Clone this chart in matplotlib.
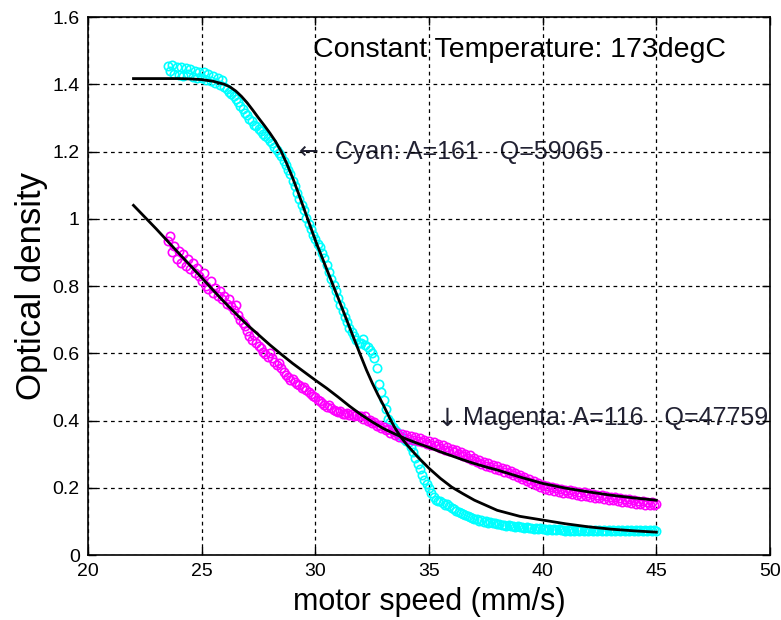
import matplotlib
matplotlib.use("Agg")
import matplotlib.pyplot as plt

# motor speed samples shared by both measured traces (mm/s)
speed = [
    23.5, 23.6, 23.7, 23.8, 23.9,
    24.0, 24.1, 24.2, 24.3, 24.4, 24.5, 24.6, 24.7, 24.8, 24.9,
    25.0, 25.1, 25.2, 25.3, 25.4, 25.5, 25.6, 25.7, 25.8, 25.9,
    26.0, 26.1, 26.2, 26.3, 26.4, 26.5, 26.6, 26.7, 26.8, 26.9,
    27.0, 27.1, 27.2, 27.3, 27.4, 27.5, 27.6, 27.7, 27.8, 27.9,
    28.0, 28.1, 28.2, 28.3, 28.4, 28.5, 28.6, 28.7, 28.8, 28.9,
    29.0, 29.1, 29.2, 29.3, 29.4, 29.5, 29.6, 29.7, 29.8, 29.9,
    30.0, 30.1, 30.2, 30.3, 30.4, 30.5, 30.6, 30.7, 30.8, 30.9,
    31.0, 31.1, 31.2, 31.3, 31.4, 31.5, 31.6, 31.7, 31.8, 31.9,
    32.0, 32.1, 32.2, 32.3, 32.4, 32.5, 32.6, 32.7, 32.8, 32.9,
    33.0, 33.1, 33.2, 33.3, 33.4, 33.5, 33.6, 33.7, 33.8, 33.9,
    34.0, 34.1, 34.2, 34.3, 34.4, 34.5, 34.6, 34.7, 34.8, 34.9,
    35.0, 35.1, 35.2, 35.3, 35.4, 35.5, 35.6, 35.7, 35.8, 35.9,
    36.0, 36.1, 36.2, 36.3, 36.4, 36.5, 36.6, 36.7, 36.8, 36.9,
    37.0, 37.1, 37.2, 37.3, 37.4, 37.5, 37.6, 37.7, 37.8, 37.9,
    38.0, 38.1, 38.2, 38.3, 38.4, 38.5, 38.6, 38.7, 38.8, 38.9,
    39.0, 39.1, 39.2, 39.3, 39.4, 39.5, 39.6, 39.7, 39.8, 39.9,
    40.0, 40.1, 40.2, 40.3, 40.4, 40.5, 40.6, 40.7, 40.8, 40.9,
    41.0, 41.1, 41.2, 41.3, 41.4, 41.5, 41.6, 41.7, 41.8, 41.9,
    42.0, 42.1, 42.2, 42.3, 42.4, 42.5, 42.6, 42.7, 42.8, 42.9,
    43.0, 43.1, 43.2, 43.3, 43.4, 43.5, 43.6, 43.7, 43.8, 43.9,
    44.0, 44.1, 44.2, 44.3, 44.4, 44.5, 44.6, 44.7, 44.8, 44.9,
    45.0,
]

cyan_od = [
    1.455, 1.440, 1.458, 1.432, 1.450,
    1.428, 1.452, 1.425, 1.448, 1.430, 1.446, 1.422, 1.440, 1.420, 1.438,
    1.418, 1.436, 1.412, 1.432, 1.410, 1.426, 1.404, 1.420, 1.398, 1.412,
    1.392, 1.385, 1.376, 1.370, 1.364, 1.356, 1.348, 1.336, 1.328, 1.316,
    1.310, 1.296, 1.290, 1.280, 1.275, 1.268, 1.262, 1.252, 1.246, 1.240,
    1.232, 1.224, 1.214, 1.206, 1.196, 1.186, 1.172, 1.160, 1.145, 1.132,
    1.112, 1.098, 1.078, 1.060, 1.040, 1.026, 1.002, 0.984, 0.970, 0.952,
    0.940, 0.925, 0.915, 0.898, 0.882, 0.862, 0.842, 0.822, 0.802, 0.784,
    0.765, 0.745, 0.727, 0.708, 0.692, 0.676, 0.662, 0.650, 0.640, 0.632,
    0.630, 0.642, 0.625, 0.618, 0.610, 0.600, 0.585, 0.555, 0.510, 0.485,
    0.460, 0.435, 0.405, 0.395, 0.380, 0.372, 0.365, 0.358, 0.350, 0.345,
    0.340, 0.335, 0.322, 0.305, 0.290, 0.272, 0.255, 0.238, 0.222, 0.210,
    0.198, 0.185, 0.172, 0.165, 0.160, 0.162, 0.155, 0.150, 0.152, 0.145,
    0.140, 0.136, 0.132, 0.129, 0.124, 0.121, 0.118, 0.116, 0.112, 0.111,
    0.107, 0.106, 0.102, 0.103, 0.099, 0.100, 0.096, 0.098, 0.094, 0.095,
    0.092, 0.093, 0.089, 0.090, 0.087, 0.088, 0.085, 0.087, 0.084, 0.085,
    0.082, 0.084, 0.080, 0.082, 0.079, 0.081, 0.078, 0.080, 0.077, 0.079,
    0.076, 0.078, 0.075, 0.077, 0.074, 0.076, 0.073, 0.076, 0.073, 0.075,
    0.072, 0.075, 0.072, 0.074, 0.071, 0.074, 0.071, 0.074, 0.071, 0.073,
    0.071, 0.074, 0.070, 0.073, 0.071, 0.074, 0.070, 0.073, 0.071, 0.074,
    0.070, 0.073, 0.071, 0.074, 0.070, 0.073, 0.071, 0.074, 0.070, 0.073,
    0.071, 0.074, 0.070, 0.073, 0.071, 0.074, 0.070, 0.073, 0.071, 0.073,
    0.072,
]

magenta_od = [
    0.935, 0.950, 0.900, 0.920, 0.880,
    0.905, 0.870, 0.895, 0.860, 0.880, 0.850, 0.868, 0.840, 0.855, 0.830,
    0.815, 0.840, 0.800, 0.790, 0.815, 0.780, 0.795, 0.770, 0.785, 0.760,
    0.770, 0.748, 0.762, 0.740, 0.730, 0.745, 0.715, 0.700, 0.690, 0.680,
    0.665, 0.650, 0.640, 0.655, 0.630, 0.622, 0.615, 0.605, 0.598, 0.590,
    0.600, 0.585, 0.575, 0.565, 0.570, 0.555, 0.545, 0.535, 0.528, 0.520,
    0.525, 0.515, 0.510, 0.505, 0.498, 0.500, 0.492, 0.485, 0.478, 0.472,
    0.470, 0.462, 0.458, 0.452, 0.445, 0.440, 0.446, 0.438, 0.432, 0.428,
    0.425, 0.428, 0.420, 0.418, 0.421, 0.415, 0.418, 0.412, 0.416, 0.414,
    0.414, 0.406, 0.412, 0.400, 0.402, 0.392, 0.396, 0.385, 0.388, 0.378,
    0.382, 0.371, 0.374, 0.362, 0.369, 0.357, 0.364, 0.352, 0.360, 0.349,
    0.357, 0.346, 0.353, 0.341, 0.350, 0.338, 0.347, 0.335, 0.343, 0.331,
    0.339, 0.328, 0.335, 0.323, 0.330, 0.318, 0.326, 0.313, 0.321, 0.309,
    0.316, 0.305, 0.311, 0.299, 0.306, 0.294, 0.301, 0.289, 0.296, 0.283,
    0.290, 0.278, 0.284, 0.271, 0.278, 0.265, 0.273, 0.261, 0.269, 0.257,
    0.265, 0.253, 0.260, 0.248, 0.255, 0.243, 0.250, 0.237, 0.245, 0.232,
    0.239, 0.226, 0.233, 0.220, 0.227, 0.214, 0.221, 0.208, 0.215, 0.202,
    0.209, 0.197, 0.205, 0.193, 0.202, 0.191, 0.199, 0.188, 0.196, 0.185,
    0.194, 0.183, 0.192, 0.181, 0.190, 0.179, 0.188, 0.177, 0.186, 0.175,
    0.184, 0.173, 0.182, 0.171, 0.180, 0.169, 0.178, 0.167, 0.176, 0.165,
    0.174, 0.163, 0.172, 0.161, 0.170, 0.159, 0.168, 0.157, 0.166, 0.155,
    0.164, 0.153, 0.162, 0.151, 0.160, 0.150, 0.159, 0.149, 0.158, 0.148,
    0.152,
]

# fitted curves
cyan_fit_speed = [22.0, 23.0, 24.0, 24.5, 25.0, 25.5, 26.0, 26.25, 26.5, 26.75, 27.0,
                  27.25, 27.5, 27.75, 28.0, 28.25, 28.5, 28.75, 29.0, 29.25, 29.5,
                  29.75, 30.0, 30.5, 31.0, 31.5, 32.0, 32.25, 32.5, 32.75, 33.0,
                  33.25, 33.5, 33.75, 34.0, 34.5, 35.0, 35.5, 36.0, 36.5, 37.0,
                  37.5, 38.0, 39.0, 40.0, 41.0, 42.0, 43.0, 44.0, 45.0]
cyan_fit = [1.417, 1.417, 1.417, 1.416, 1.414, 1.409, 1.400, 1.392, 1.380, 1.364, 1.345,
            1.323, 1.300, 1.278, 1.255, 1.230, 1.200, 1.163, 1.122, 1.077, 1.030,
            0.983, 0.936, 0.850, 0.765, 0.678, 0.592, 0.550, 0.512, 0.477, 0.445,
            0.410, 0.378, 0.352, 0.330, 0.292, 0.258, 0.228, 0.202, 0.182, 0.163,
            0.148, 0.133, 0.115, 0.104, 0.093, 0.084, 0.077, 0.072, 0.068]

magenta_fit_speed = [22.0, 23.0, 24.0, 25.0, 25.5, 26.0, 26.5, 27.0, 27.5, 28.0, 28.5,
                     29.0, 29.5, 30.0, 30.5, 31.0, 31.5, 32.0, 32.5, 33.0, 33.5, 34.0,
                     34.5, 35.0, 35.5, 36.0, 36.5, 37.0, 37.5, 38.0, 39.0, 40.0, 41.0,
                     42.0, 43.0, 44.0, 45.0]
magenta_fit = [1.040, 0.970, 0.897, 0.825, 0.788, 0.752, 0.718, 0.685, 0.655, 0.625, 0.597,
               0.570, 0.545, 0.520, 0.496, 0.470, 0.443, 0.418, 0.396, 0.376, 0.360, 0.345,
               0.332, 0.320, 0.307, 0.295, 0.283, 0.272, 0.262, 0.253, 0.232, 0.213, 0.199,
               0.188, 0.178, 0.170, 0.163]

title_text = "Constant Temperature: 173degC"
cyan_label = "Cyan: A=161   Q=59065"
magenta_label = "Magenta: A=116   Q=47759"

fig = plt.figure(figsize=(7.81, 6.2), dpi=100)
ax = fig.add_axes([0.1127, 0.1048, 0.8732, 0.8677])

ax.plot(speed, cyan_od, "o", mfc="none", mec=(0, 1, 1), ms=6, mew=1.2, zorder=2)
ax.plot(speed, magenta_od, "o", mfc="none", mec=(1, 0, 1), ms=6, mew=1.2, zorder=2)
ax.plot(cyan_fit_speed, cyan_fit, color="black", lw=2, zorder=3)
ax.plot(magenta_fit_speed, magenta_fit, color="black", lw=2, zorder=3)

ax.set_xlim(20, 50)
ax.set_ylim(0, 1.6)
ax.set_xticks([20, 25, 30, 35, 40, 45, 50])
ax.set_yticks([0, 0.2, 0.4, 0.6, 0.8, 1.0, 1.2, 1.4, 1.6])
ax.set_yticklabels(["0", "0.2", "0.4", "0.6", "0.8", "1", "1.2", "1.4", "1.6"])

for lab in ax.get_xticklabels() + ax.get_yticklabels():
    lab.set_fontfamily(["Liberation Sans Narrow", "Liberation Sans", "DejaVu Sans"])
    lab.set_fontsize(14)

ax.tick_params(direction="in", length=6, width=1, top=True, right=True, pad=6, colors="black")
ax.grid(True, color="black", linestyle=(0, (3, 3)), linewidth=0.9)
ax.set_axisbelow("line")
for sp in ax.spines.values():
    sp.set_linewidth(1.2)

lab_font = ["Liberation Sans", "DejaVu Sans"]
ax.set_xlabel("motor speed (mm/s)", fontsize=22, family=lab_font, labelpad=5)
ax.set_ylabel("Optical density", fontsize=25, family=lab_font, labelpad=3)

ax.text(29.9, 1.502, title_text, fontsize=20.5, family=lab_font, ha="left", va="center", zorder=1)

txt_color = "#222233"
ax.text(29.28, 1.199, "\u2190", fontsize=17, family="DejaVu Sans", color=txt_color,
        ha="left", va="center", zorder=1)
ax.text(30.87, 1.199, cyan_label, fontsize=18, family=lab_font, color=txt_color,
        ha="left", va="center", zorder=1)
ax.text(35.35, 0.405, "\u2193", fontsize=18, family="DejaVu Sans", color=txt_color,
        ha="left", va="center", zorder=1)
ax.text(36.5, 0.407, magenta_label, fontsize=18, family=lab_font, color=txt_color,
        ha="left", va="center", zorder=1)

fig.savefig("out.png", dpi=100)
